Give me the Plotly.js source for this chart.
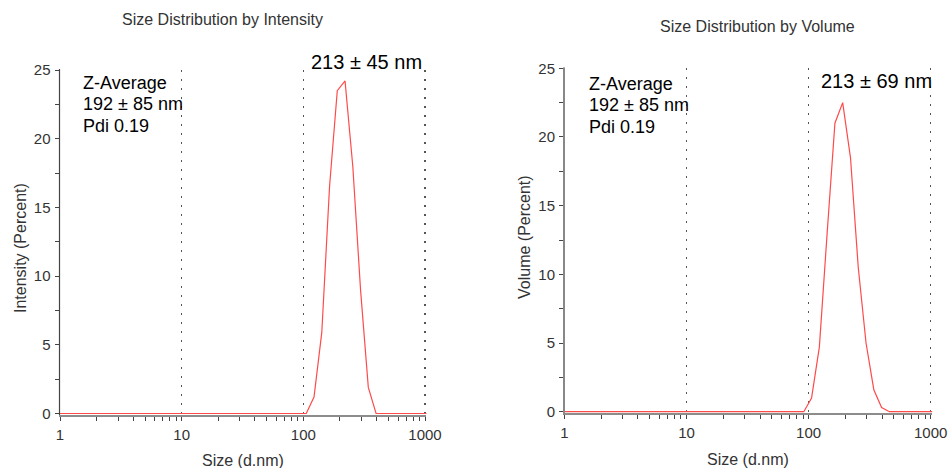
<!DOCTYPE html>
<html>
<head>
<meta charset="utf-8">
<script src="https://cdn.plot.ly/plotly-3.0.1.min.js"></script>
<style>
  html, body { margin: 0; padding: 0; background: #fff; }
  #chart { width: 948px; height: 468px; }
</style>
</head>
<body>
<div id="chart"></div>
<script>
// Size classes (d.nm) of the DLS distribution, 1–1000 nm window
const sizes = [
  0.965, 1.117, 1.294, 1.499, 1.736, 2.010, 2.328, 2.696, 3.122, 3.615,
  4.187, 4.849, 5.615, 6.503, 7.531, 8.721, 10.10, 11.70, 13.54, 15.69,
  18.17, 21.04, 24.36, 28.21, 32.67, 37.84, 43.82, 50.75, 58.77, 68.06,
  78.82, 91.28, 105.7, 122.4, 141.8, 164.2, 190.1, 220.2, 255.0, 295.3,
  342.0, 396.1, 458.7, 531.2, 615.1, 712.4, 825.0, 955.4, 1106
];

// Intensity distribution (percent)
const intensity = [
  0, 0, 0, 0, 0, 0, 0, 0, 0, 0,
  0, 0, 0, 0, 0, 0, 0, 0, 0, 0,
  0, 0, 0, 0, 0, 0, 0, 0, 0, 0,
  0, 0, 0, 1.2, 5.9, 16.5, 23.5, 24.2, 18.0, 9.0,
  1.9, 0, 0, 0, 0, 0, 0, 0, 0
];

// Volume distribution (percent)
const volume = [
  0, 0, 0, 0, 0, 0, 0, 0, 0, 0,
  0, 0, 0, 0, 0, 0, 0, 0, 0, 0,
  0, 0, 0, 0, 0, 0, 0, 0, 0, 0,
  0, 0, 1.0, 4.7, 13.0, 21.0, 22.5, 18.5, 10.5, 5.0,
  1.6, 0.3, 0, 0, 0, 0, 0, 0, 0
];

const xTickVals = [1, 10, 100, 1000];
const xTickText = ['1', '10', '100', '1000'];
const yTickVals = [0, 5, 10, 15, 20, 25];

const panelTitles = ['Size Distribution by Intensity', 'Size Distribution by Volume'];
const yTitles = ['Intensity (Percent)', 'Volume (Percent)'];
const xTitle = 'Size (d.nm)';
const zAverageLines = ['Z-Average', '192 ± 85 nm', 'Pdi 0.19'];
const peakLabels = ['213 ± 45 nm', '213 ± 69 nm'];

const W = 948, H = 468;
const FONT = 'Liberation Sans, Arial, sans-serif';
const px = v => v / W;
const py = v => 1 - v / H;

const red = '#ff4a4a';
// log range runs a hair past 1000 so the 1000 gridline is kept
const X_RANGE = [0, 3.012];
const Y_RANGE = [-0.1, 25];

const traces = [
  { x: sizes, y: intensity, xaxis: 'x', yaxis: 'y', type: 'scatter', mode: 'lines',
    line: { color: red, width: 1.2 }, hoverinfo: 'skip' },
  { x: sizes, y: volume, xaxis: 'x2', yaxis: 'y2', type: 'scatter', mode: 'lines',
    line: { color: red, width: 1.2 }, hoverinfo: 'skip' }
];

function xAxis(domain, anchor, lineColor) {
  return {
    domain: domain, anchor: anchor, type: 'log', range: X_RANGE,
    tickvals: xTickVals, ticktext: xTickText,
    ticks: 'outside', ticklen: 4, tickcolor: '#444', tickwidth: 1,
    minor: { dtick: 'D1', ticks: 'outside', ticklen: 4, tickcolor: '#444', tickwidth: 1, showgrid: false },
    showgrid: true, gridcolor: '#555', gridwidth: 1.5, griddash: '2px,7px',
    showline: true, linecolor: lineColor, linewidth: 2,
    zeroline: false, ticklabelstandoff: 1,
    tickfont: { family: FONT, size: 15, color: '#333' },
    fixedrange: true
  };
}
function yAxis(domain, anchor, lineColor) {
  return {
    domain: domain, anchor: anchor, range: Y_RANGE,
    tickvals: yTickVals,
    ticks: 'outside', ticklen: 4, tickcolor: '#444', tickwidth: 1,
    minor: { dtick: 2.5, tick0: 0, ticks: 'outside', ticklen: 4, tickcolor: '#444', tickwidth: 1, showgrid: false },
    showgrid: false, zeroline: false,
    showline: true, linecolor: lineColor, linewidth: 1.5,
    ticklabelstandoff: 1,
    tickfont: { family: FONT, size: 15, color: '#333' },
    fixedrange: true
  };
}

const annotations = [];
function note(text, x, y, opts) {
  annotations.push(Object.assign({
    text: text, xref: 'paper', yref: 'paper', x: px(x), y: py(y),
    showarrow: false, xanchor: 'center', yanchor: 'middle',
    font: { family: FONT, size: 16, color: '#333' }
  }, opts || {}));
}

// panel titles
note(panelTitles[0], 222, 19.5);
note(panelTitles[1], 757, 26);
// axis titles
note(yTitles[0], 20, 248, { textangle: -90 });
note(yTitles[1], 524, 237, { textangle: -90 });
note(xTitle, 242.5, 460);
note(xTitle, 748, 459);
// Z-average block
const zLeft = [81, 587];
const zTop = [[83, 104, 126], [84, 105, 127]];
for (let p = 0; p < 2; p++) {
  zAverageLines.forEach((t, i) => {
    note(t, zLeft[p], zTop[p][i], { xanchor: 'left', font: { family: FONT, size: 18, color: '#000' } });
  });
}
// peak labels
note(peakLabels[0], 366, 62, { font: { family: FONT, size: 20, color: '#000' } });
note(peakLabels[1], 876, 81, { font: { family: FONT, size: 20, color: '#000' } });

// vertical axis rules of both panels
const yRules = [
  { x: 59.5, top: 69, bottom: 415, color: '#444' },
  { x: 564, top: 67, bottom: 413, color: '#888' }
];
const shapes = yRules.map(r => ({
  type: 'line', xref: 'paper', yref: 'paper',
  x0: px(r.x), x1: px(r.x), y0: py(r.bottom), y1: py(r.top),
  line: { color: r.color, width: 1.2 }, layer: 'above'
}));

const decL = 365 / 3, decR = 366.2 / 3;
const layout = {
  width: W, height: H,
  margin: { l: 0, r: 0, t: 0, b: 0 },
  paper_bgcolor: '#fff', plot_bgcolor: '#fff',
  showlegend: false, hovermode: false,
  font: { family: FONT, color: '#333' },
  xaxis: xAxis([px(60), px(60 + decL * X_RANGE[1])], 'y', '#8c8c8c'),
  yaxis: yAxis([py(414.87), py(70)], 'x', '#444'),
  xaxis2: xAxis([px(564.5), px(564.5 + decR * X_RANGE[1])], 'y2', '#8c8c8c'),
  yaxis2: yAxis([py(413.07), py(68.3)], 'x2', '#888'),
  shapes: shapes,
  annotations: annotations
};

Plotly.newPlot('chart', traces, layout, { staticPlot: true, displayModeBar: false });
</script>
</body>
</html>
